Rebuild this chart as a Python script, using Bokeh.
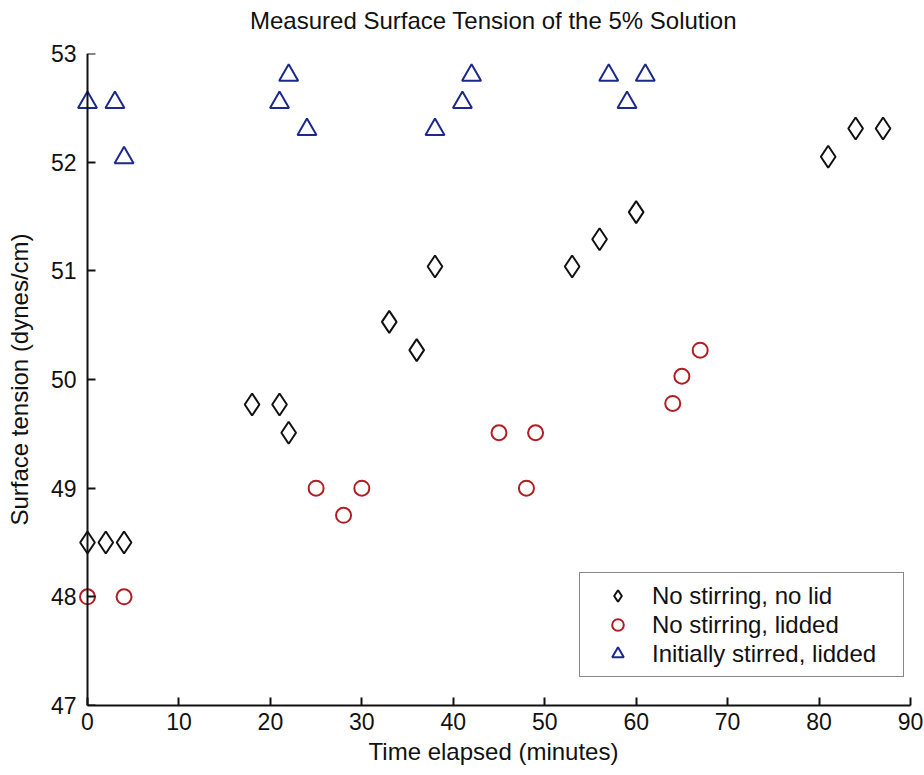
from bokeh.plotting import figure
from bokeh.models import Range1d, Legend, LegendItem, FixedTicker, LinearAxis
from bokeh.embed import file_html
from bokeh.resources import INLINE

# Elapsed time (minutes) and surface tension (dynes/cm) for each test series
t_open = [0, 2, 4, 18, 21, 22, 33, 36, 38, 53, 56, 60, 81, 84, 87]
st_open = [48.50, 48.50, 48.50, 49.77, 49.77, 49.51, 50.53, 50.27, 51.04,
           51.04, 51.29, 51.54, 52.05, 52.31, 52.31]

t_lid = [0, 4, 25, 28, 30, 45, 48, 49, 64, 65, 67]
st_lid = [48.00, 48.00, 49.00, 48.75, 49.00, 49.51, 49.00, 49.51, 49.78, 50.03, 50.27]

t_stir = [0, 3, 4, 21, 22, 24, 38, 41, 42, 57, 59, 61]
st_stir = [52.55, 52.55, 52.04, 52.55, 52.80, 52.30, 52.30, 52.55, 52.80,
           52.80, 52.55, 52.80]

series_labels = ["No stirring, no lid", "No stirring, lidded", "Initially stirred, lidded"]
x_ticks = [0, 10, 20, 30, 40, 50, 60, 70, 80, 90]
y_ticks = [47, 48, 49, 50, 51, 52, 53]
title_text = "Measured Surface Tension of the 5% Solution"

FONT = "Liberation Sans, Arial, Helvetica, sans-serif"
INK = "#111111"
RED = "#b01e23"
BLUE = "#1b2a8a"

X_MIN, X_MAX = 0, 90
Y_MIN, Y_MAX = 47, 53

# Frame geometry in pixels.  The frame reaches a little left of t = 0 so
# that markers sitting on the y axis are drawn whole; the visible y axis
# line is pinned at t = 0.
W, H = 924, 775
FRAME_LEFT, AXIS_X, FRAME_RIGHT = 76, 87, 910
FRAME_TOP, FRAME_BOTTOM = 53, 705
PX_PER_MIN = (FRAME_RIGHT - AXIS_X) / (X_MAX - X_MIN)
X_PAD = -(AXIS_X - FRAME_LEFT) / PX_PER_MIN

p = figure(width=W, height=H, output_backend="svg", toolbar_location=None,
           x_range=Range1d(X_MIN + X_PAD, X_MAX), y_range=Range1d(Y_MIN, Y_MAX),
           min_border_left=FRAME_LEFT, min_border_right=W - FRAME_RIGHT,
           min_border_top=FRAME_TOP, min_border_bottom=H - FRAME_BOTTOM)

p.background_fill_color = "white"
p.border_fill_color = "white"
p.outline_line_color = None
p.xgrid.visible = False
p.ygrid.visible = False


def style_axis(ax, ticks):
    ax.ticker = FixedTicker(ticks=ticks)
    ax.minor_tick_line_color = None
    ax.axis_line_width = 2
    ax.axis_line_color = INK
    ax.major_tick_line_width = 2
    ax.major_tick_line_color = INK
    ax.major_label_text_font = FONT
    ax.major_label_text_font_size = "23px"
    ax.major_label_text_color = INK
    ax.axis_label_text_font = FONT
    ax.axis_label_text_font_size = "24px"
    ax.axis_label_text_font_style = "normal"
    ax.axis_label_text_color = INK


# bottom axis
xax = p.xaxis[0]
style_axis(xax, x_ticks)
xax.bounds = (X_MIN, X_MAX)
xax.major_tick_in = 8
xax.major_tick_out = 0
xax.major_label_standoff = 7
xax.axis_label = "Time elapsed (minutes)"
xax.axis_label_standoff = 5

# left axis: tick labels and axis title only
yax = p.yaxis[0]
style_axis(yax, y_ticks)
yax.axis_line_color = None
yax.major_tick_line_color = None
yax.major_tick_in = 0
yax.major_tick_out = 0
yax.major_label_standoff = 0
yax.axis_label = "Surface tension (dynes/cm)"
yax.axis_label_standoff = 15

# axis line and inward ticks drawn at t = 0
yline = LinearAxis(fixed_location=X_MIN)
style_axis(yline, y_ticks)
yline.major_tick_in = 0
yline.major_tick_out = 8
yline.major_label_standoff = 0
yline.major_label_text_font_size = "0px"
yline.major_label_text_alpha = 0
p.add_layout(yline, "right")

# chart title, carried by a bare axis above the frame
top = LinearAxis()
style_axis(top, [])
top.axis_line_color = None
top.major_tick_line_color = None
top.major_tick_in = 0
top.major_tick_out = 0
top.major_label_standoff = 0
top.axis_label = title_text
top.axis_label_standoff = 20
p.add_layout(top, "above")

r_open = p.scatter(t_open, st_open, marker="diamond", size=22,
                   fill_color=None, line_color=INK, line_width=2)
r_lid = p.scatter(t_lid, st_lid, marker="circle", size=15,
                  fill_color=None, line_color=RED, line_width=2)
r_stir = p.scatter(t_stir, st_stir, marker="triangle", size=19,
                   fill_color=None, line_color=BLUE, line_width=2)

legend = Legend(
    items=[LegendItem(label=series_labels[0], renderers=[r_open]),
           LegendItem(label=series_labels[1], renderers=[r_lid]),
           LegendItem(label=series_labels[2], renderers=[r_stir])],
    location=(579 - FRAME_LEFT, 28), margin=0, padding=8, spacing=0,
    glyph_width=59, glyph_height=29, label_height=29, label_width=243,
    label_standoff=5,
    label_text_font=FONT, label_text_font_size="24px", label_text_color=INK,
    border_line_color=INK, border_line_width=1.5,
    background_fill_color="white", background_fill_alpha=1.0,
)
p.add_layout(legend)

open("out.html", "w").write(file_html(p, INLINE))
